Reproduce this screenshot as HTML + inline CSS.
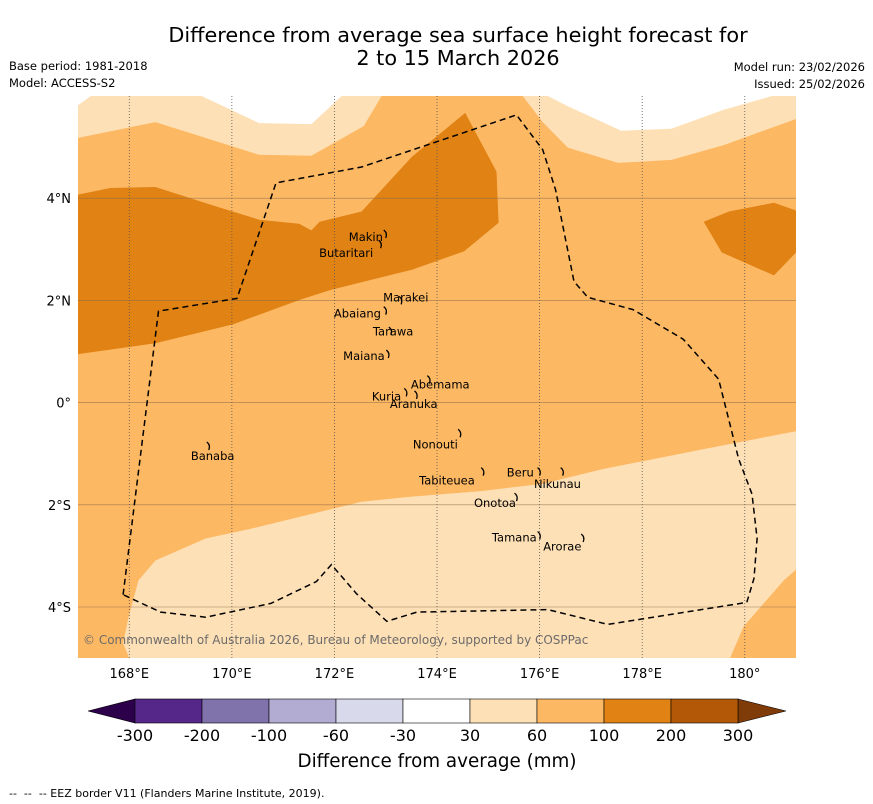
<!DOCTYPE html>
<html><head><meta charset="utf-8"><style>
body{margin:0;background:#fff;width:873px;height:804px;overflow:hidden;font-family:"DejaVu Sans","Liberation Sans",sans-serif}
svg{display:block}
</style></head><body>
<svg id="chart" width="873" height="804" xmlns="http://www.w3.org/2000/svg">
<text x="458" y="42" font-size="20.8" text-anchor="middle">Difference from average sea surface height forecast for</text>
<text x="458" y="65" font-size="20.8" text-anchor="middle">2 to 15 March 2026</text>
<text x="9" y="70" font-size="11.5">Base period: 1981-2018</text>
<text x="9" y="87" font-size="11.5">Model: ACCESS-S2</text>
<text x="865" y="71" font-size="11.5" text-anchor="end">Model run: 23/02/2026</text>
<text x="865" y="88" font-size="11.5" text-anchor="end">Issued: 25/02/2026</text>
<defs><clipPath id="mapclip"><rect x="78" y="96" width="718" height="562"/></clipPath></defs>
<g id="map" clip-path="url(#mapclip)"></g>
<g id="axes"></g>
<g id="cbar"></g>
<text x="437" y="767" font-size="18.3" text-anchor="middle">Difference from average (mm)</text>
<text x="9" y="797" font-size="11">--&#160;&#160;--&#160;&#160;-- EEZ border V11 (Flanders Marine Institute, 2019).</text>
</svg>
<script>
const lonTicks=[168,170,172,174,176,178,180];
const lonLabels=["168°E","170°E","172°E","174°E","176°E","178°E","180°"];
const latTicks=[4,2,0,-2,-4];
const latLabels=["4°N","2°N","0°","2°S","4°S"];
const levels=["-300","-200","-100","-60","-30","30","60","100","200","300"];
const levelColors=["#542788","#8073ac","#b2abd2","#d8daeb","#ffffff","#fee0b6","#fdb863","#e08214","#b35806"];
const lightTopLeft=[[167,6],[172.92,6],[172.57,5.41],[171.55,4.83],[170.53,4.85],[168.51,5.49],[167,5.18]];
const whiteTopLeftA=[[167,5.82],[167.25,6],[167,6]];
const whiteTopLeftB=[[169.41,6],[170.53,5.47],[171.55,5.45],[172.14,6]];
const lightTopRight=[[175.67,6],[176.06,5.49],[176.55,4.99],[177.53,4.69],[178.57,4.75],[179.59,5.04],[181,5.55],[181,6]];
const whiteTopRight=[[176.16,6],[176.55,5.8],[177.59,5.32],[178.57,5.36],[179.59,5.73],[180.53,6]];
const darkLeft=[[167,4.07],[167.63,4.2],[168.51,4.22],[169.59,3.87],[170.53,3.58],[171.31,3.5],[171.55,3.37],[171.71,3.54],[172.53,3.74],[173.51,4.81],[174.55,5.67],[175.16,4.52],[175.2,3.52],[174.53,2.96],[173.51,2.6],[171.94,2.21],[171.35,2.02],[170.02,1.53],[168.51,1.16],[167,0.95]];
const darkRight=[[179.2,3.54],[179.69,3.74],[180.57,3.91],[181,3.76],[181,2.94],[180.57,2.49],[179.55,2.94]];
const lightBottom=[[181,-0.56],[179.2,-0.91],[177.24,-1.3],[176.06,-1.59],[174.88,-1.73],[173.51,-1.84],[172.53,-1.94],[171.55,-2.18],[170.37,-2.47],[169.49,-2.66],[168.51,-3.09],[168.18,-3.48],[167.98,-4.22],[167.88,-4.71],[168.02,-5.05],[179.69,-5.05],[179.98,-4.38],[180.76,-3.48],[181,-3.27]];
const eez=[[167.88,-3.76],[168.57,1.79],[170.1,2.04],[170.86,4.3],[172.53,4.61],[175.55,5.63],[176.06,4.95],[176.31,4.17],[176.67,2.37],[176.94,2.06],[177.82,1.82],[178.8,1.24],[179.49,0.46],[179.88,-1.1],[180.14,-1.79],[180.24,-2.66],[180.18,-3.44],[180.04,-3.91],[177.33,-4.34],[176.16,-4.05],[173.61,-4.1],[173.02,-4.28],[172.43,-3.74],[171.94,-3.17],[171.65,-3.5],[170.76,-3.93],[169.49,-4.2],[168.61,-4.1],[167.88,-3.76]];
const islandNames=["Makin","Butaritari","Marakei","Abaiang","Tarawa","Maiana","Abemama","Kuria","Aranuka","Banaba","Nonouti","Tabiteuea","Beru","Nikunau","Onotoa","Tamana","Arorae"];
const islandLon=[173.0,172.9,173.3,173.0,173.1,173.05,173.85,173.4,173.6,169.55,174.45,174.9,176.0,176.45,175.55,176.0,176.85];
const islandLat=[3.3,3.1,2.0,1.8,1.4,0.95,0.45,0.2,0.15,-0.85,-0.6,-1.35,-1.35,-1.35,-1.85,-2.6,-2.65];
const labelLon=[172.28,171.7,172.95,171.99,172.75,172.17,173.49,172.73,173.08,169.2,173.53,173.65,175.36,175.89,174.72,175.07,176.07];
const labelLat=[3.23,2.92,2.05,1.73,1.38,0.9,0.34,0.11,-0.04,-1.05,-0.83,-1.53,-1.38,-1.6,-1.97,-2.65,-2.83];

const X=lon=>78+(lon-167)*51.29;
const Y=lat=>96+(6-lat)*51.1;
const NS="http://www.w3.org/2000/svg";
function mk(tag,attrs,parent){const e=document.createElementNS(NS,tag);for(const k in attrs)e.setAttribute(k,attrs[k]);parent.appendChild(e);return e;}
const pts=a=>a.map(p=>X(p[0]).toFixed(1)+","+Y(p[1]).toFixed(1)).join(" ");
const map=document.getElementById('map');
let bg=mk('rect',{x:78,y:96,width:718,height:562,fill:levelColors[6]},map);


function poly(a,fill,name){const p=mk('polygon',{points:pts(a),fill:fill},map);

}
poly(lightTopLeft,levelColors[5],'contour-30-60-north-west');
poly(whiteTopLeftA,levelColors[4],'contour-neutral-north-west-corner');
poly(whiteTopLeftB,levelColors[4],'contour-neutral-north-west');
poly(lightTopRight,levelColors[5],'contour-30-60-north-east');
poly(whiteTopRight,levelColors[4],'contour-neutral-north-east');
poly(darkLeft,levelColors[7],'contour-100-200-west');
poly(darkRight,levelColors[7],'contour-100-200-east');
poly(lightBottom,levelColors[5],'contour-30-60-south');
lonTicks.forEach(v=>{const l=mk('line',{x1:X(v),x2:X(v),y1:96,y2:658,stroke:'#555','stroke-width':0.8,'stroke-dasharray':'1,2'},map);

});
latTicks.forEach(v=>{const l=mk('line',{x1:78,x2:796,y1:Y(v),y2:Y(v),stroke:'#8a6a4a','stroke-width':0.6,'stroke-opacity':0.8},map);

});
const ez=mk('polyline',{points:pts(eez),fill:'none',stroke:'#000','stroke-width':1.5,'stroke-dasharray':'6,4'},map);


islandNames.forEach((n,i)=>{const x=X(islandLon[i]),y=Y(islandLat[i]);
const s=mk('path',{d:`M${x-2},${y-4} q4,3 2,8`,fill:'none',stroke:'#000','stroke-width':1.3},map);


const t=mk('text',{x:X(labelLon[i]),y:Y(labelLat[i]),'font-size':11.5,'dominant-baseline':'middle'},map);
t.textContent=n;

});
const cp=mk('text',{x:83,y:644,'font-size':12,fill:'#6b6b6b'},map);
cp.textContent="© Commonwealth of Australia 2026, Bureau of Meteorology, supported by COSPPac";


const ax=document.getElementById('axes');
lonTicks.forEach((v,i)=>{const t=mk('text',{x:X(v),y:678,'font-size':13,'text-anchor':'middle'},ax);t.textContent=lonLabels[i];

});
latTicks.forEach((v,i)=>{const t=mk('text',{x:71,y:Y(v)+5,'font-size':13,'text-anchor':'end'},ax);t.textContent=latLabels[i];

});
const cb=document.getElementById('cbar');
const cx0=135,cw=(738-135)/levelColors.length,cy=699,ch=24;
let lt=mk('polygon',{points:`88,${cy+ch/2} ${cx0},${cy} ${cx0},${cy+ch}`,fill:'#2d004b',stroke:'#000','stroke-width':0.6},cb);


let rt=mk('polygon',{points:`786,${cy+ch/2} 738,${cy} 738,${cy+ch}`,fill:'#7f3b08',stroke:'#000','stroke-width':0.6},cb);


levelColors.forEach((c,i)=>{const r=mk('rect',{x:cx0+i*cw,y:cy,width:cw,height:ch,fill:c,stroke:'#000','stroke-width':0.6},cb);

});
levels.forEach((l,i)=>{const t=mk('text',{x:cx0+i*cw,y:741,'font-size':16,'text-anchor':'middle'},cb);t.textContent=l;

});
</script>
</body></html>
